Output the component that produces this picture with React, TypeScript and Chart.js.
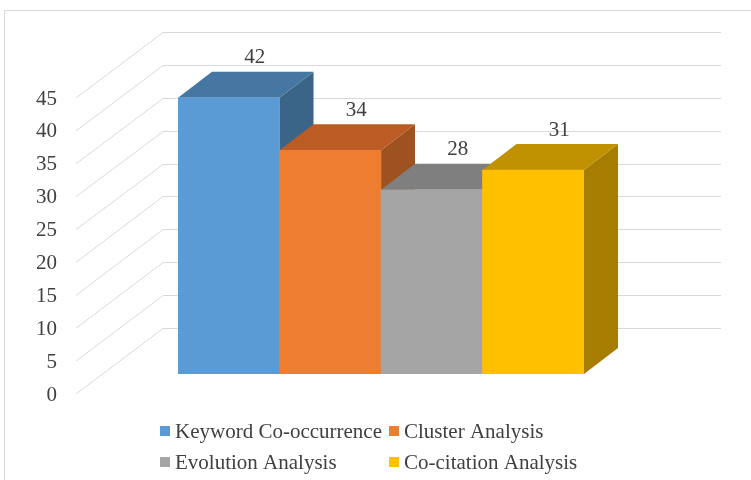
import React, { useEffect, useRef } from "react";
import { Chart, registerables } from "chart.js";

Chart.register(...registerables);

// ---- data ----
const categories = [
  "Keyword Co-occurrence",
  "Cluster Analysis",
  "Evolution Analysis",
  "Co-citation Analysis",
];
const values = [42, 34, 28, 31];
const yTicks = [0, 5, 10, 15, 20, 25, 30, 35, 40, 45];

// ---- styles ----
const frontColors = ["#5B9BD5", "#ED7D31", "#A5A5A5", "#FFC000"];
const topColors = ["#4676A2", "#BA5C24", "#7F7F7F", "#C09100"];
const sideColors = ["#3B6489", "#9E521F", "#6E6E6E", "#A67D00"];

const FONT = '"Liberation Serif", "Times New Roman", serif';
const TEXT_COLOR = "#404040";
const GRID_COLOR = "#D9D9D9";

const DEPTH_X = 34; // bar depth
const DEPTH_Y = -26;
const BACK_X = 61; // back wall offset from bar front plane
const BACK_Y = -46;
const FRONT_X = -26; // front edge of side wall offset from bar front plane
const FRONT_Y = 20;
const SIDE_EXT = 76; // how far the walls extend beyond the bars

const threeD = {
  id: "threeD",
  beforeDraw(chart: any) {
    const ctx = chart.ctx;
    ctx.save();
    ctx.strokeStyle = GRID_COLOR;
    ctx.lineWidth = 1;
    ctx.strokeRect(4.5, 10.5, chart.width + 20, chart.height + 20);
    ctx.restore();
  },
  beforeDatasetsDraw(chart: any) {
    const ctx = chart.ctx;
    const { left, right } = chart.chartArea;
    const y = chart.scales.y;
    ctx.save();
    ctx.strokeStyle = GRID_COLOR;
    ctx.lineWidth = 1;
    for (const t of yTicks) {
      const py = y.getPixelForValue(t);
      const by = Math.round(py + BACK_Y) + 0.5;
      const bx0 = left - SIDE_EXT + BACK_X;
      const bx1 = right + SIDE_EXT + BACK_X;
      const fx = left - SIDE_EXT + FRONT_X;
      const fy = py + FRONT_Y;
      ctx.beginPath();
      ctx.moveTo(fx, fy);
      ctx.lineTo(bx0, by);
      ctx.lineTo(bx1, by);
      ctx.stroke();
    }
    // side and top faces, left to right
    const meta = chart.getDatasetMeta(0);
    meta.data.forEach((bar: any, i: number) => {
      const p = bar.getProps(["x", "y", "base", "width"], true);
      const l = p.x - p.width / 2;
      const r = p.x + p.width / 2;
      const top = p.y;
      const base = p.base;
      // side
      ctx.fillStyle = sideColors[i];
      ctx.beginPath();
      ctx.moveTo(r, top);
      ctx.lineTo(r + DEPTH_X, top + DEPTH_Y);
      ctx.lineTo(r + DEPTH_X, base + DEPTH_Y);
      ctx.lineTo(r, base);
      ctx.closePath();
      ctx.fill();
      // top
      ctx.fillStyle = topColors[i];
      ctx.beginPath();
      ctx.moveTo(l, top);
      ctx.lineTo(l + DEPTH_X, top + DEPTH_Y);
      ctx.lineTo(r + DEPTH_X, top + DEPTH_Y);
      ctx.lineTo(r, top);
      ctx.closePath();
      ctx.fill();
    });
    ctx.restore();
  },
  afterDraw(chart: any) {
    const ctx = chart.ctx;
    const { left } = chart.chartArea;
    const y = chart.scales.y;
    ctx.save();
    ctx.fillStyle = TEXT_COLOR;
    // tick labels on the front edge
    ctx.font = `21px ${FONT}`;
    ctx.textAlign = "right";
    ctx.textBaseline = "middle";
    const labelX = left - SIDE_EXT + FRONT_X - 19;
    for (const t of yTicks) {
      ctx.fillText(String(t), labelX, y.getPixelForValue(t) + FRONT_Y + 1);
    }
    // value labels
    ctx.textAlign = "center";
    const meta = chart.getDatasetMeta(0);
    meta.data.forEach((bar: any, i: number) => {
      const p = bar.getProps(["x", "y"], true);
      ctx.fillText(String(values[i]), p.x + 26, p.y + DEPTH_Y - 14);
    });
    // legend (two columns)
    ctx.textAlign = "left";
    ctx.font = `21px ${FONT}`;
    const colX = [160, 389];
    const rowY = [431, 462];
    categories.forEach((c, i) => {
      const cx = colX[i % 2];
      const cy = rowY[Math.floor(i / 2)];
      ctx.fillStyle = frontColors[i];
      ctx.fillRect(cx, cy - 5, 10, 10);
      ctx.fillStyle = TEXT_COLOR;
      ctx.fillText(c, cx + 15, cy + 1);
    });
    ctx.restore();
  },
};

export default function App() {
  const ref = useRef<HTMLCanvasElement | null>(null);
  useEffect(() => {
    if (!ref.current) return;
    const chart = new Chart(ref.current, {
      type: "bar",
      data: {
        labels: categories,
        datasets: [
          {
            data: values,
            backgroundColor: frontColors,
            borderWidth: 0,
            categoryPercentage: 1,
            barPercentage: 1,
          },
        ],
      },
      options: {
        responsive: false,
        animation: false,
        layout: { padding: { left: 178, right: 167, top: 78, bottom: 106 } },
        scales: {
          x: { display: false },
          y: { display: false, min: 0, max: 45 },
        },
        plugins: {
          legend: { display: false },
          tooltip: { enabled: false },
        },
      },
      plugins: [threeD],
    });
    return () => chart.destroy();
  }, []);
  return (
    <div style={{ position: "fixed", left: 0, top: 0, width: 751, height: 480, background: "#fff" }}>
      <canvas ref={ref} width={751} height={480} style={{ display: "block" }} />
    </div>
  );
}
